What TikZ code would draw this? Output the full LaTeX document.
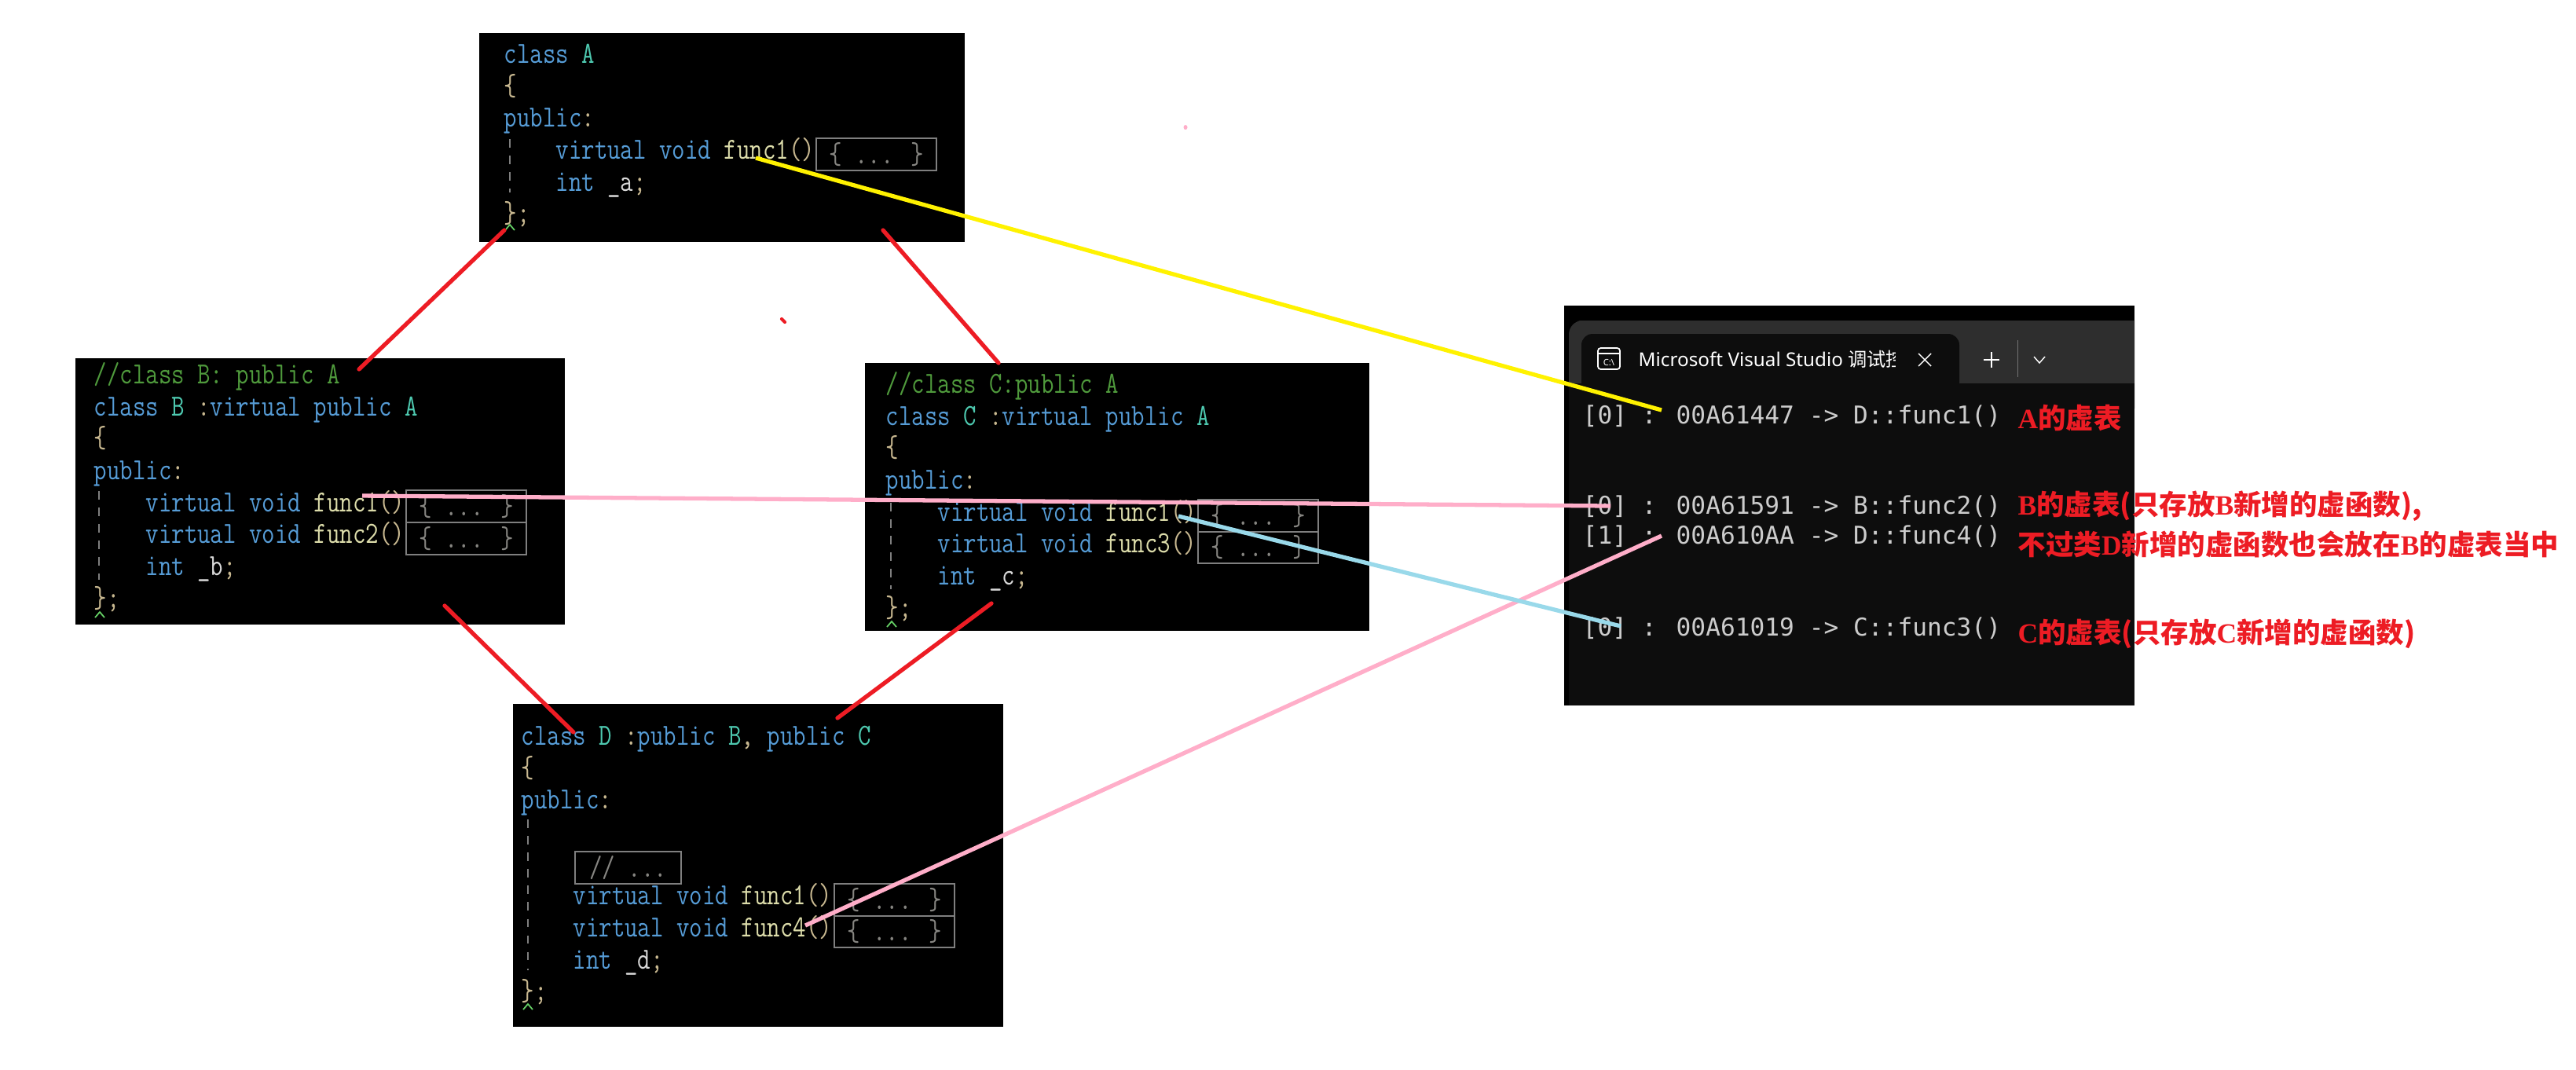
\documentclass[tikz,border=0pt]{standalone}
\usepackage{fontspec}
\usepackage{tikz}
\setmainfont{Noto Sans}
\newfontfamily\codefont[FakeStretch=0.82]{Latin Modern Mono}
\newfontfamily\consfont{DejaVu Sans Mono}
\newfontfamily\titlefont{Noto Sans}
\newfontfamily\cjk{Noto Sans CJK SC}
\newfontfamily\notelat{Liberation Serif}
\definecolor{kwblue}{HTML}{569CD6}
\definecolor{tyteal}{HTML}{4EC9B0}
\definecolor{cmgreen}{HTML}{4F9A3C}
\definecolor{fnyellow}{HTML}{DCDCAA}
\definecolor{punct}{HTML}{C8B890}
\definecolor{foldgrey}{HTML}{7F7F7F}
\definecolor{redmark}{HTML}{ED1C24}
\definecolor{yellowmark}{HTML}{FFF200}
\definecolor{pinkmark}{HTML}{FFAEC9}
\definecolor{bluemark}{HTML}{99D9EA}
\newcommand{\kw}[1]{\textcolor{kwblue}{#1}}
\newcommand{\ty}[1]{\textcolor{tyteal}{#1}}
\newcommand{\fn}[1]{\textcolor{fnyellow}{#1}}
\newcommand{\pc}[1]{\textcolor{punct}{#1}}
\newcommand{\vd}[1]{\textcolor{white!85!black}{#1}}
\newcommand{\lat}[1]{{\notelat #1}}
\tikzset{
  panel/.style={fill=black, inner sep=0pt, anchor=north west},
  code/.style={anchor=north west, inner sep=0pt, align=left, text=kwblue,
    font=\codefont\fontsize{11.1pt}{11.56pt}\selectfont},
  fold/.style={draw=foldgrey, line width=0.6pt, inner sep=0pt, anchor=north west, minimum width=1.53cm, minimum height=0.405cm,
    text=foldgrey!90!punct, font=\codefont\fontsize{11.1pt}{11.56pt}\selectfont},
  guide/.style={foldgrey, dashed, line width=0.5pt},
  caretmark/.style={green!70!black!60!white, line width=0.5pt},
  link/.style={line width=1.5pt},
  cons/.style={anchor=base west, inner sep=0pt, text=white!80!black, font=\consfont\fontsize{8.88pt}{11pt}\selectfont},
  note/.style={anchor=base west, inner sep=0pt, text=redmark, font=\cjk\bfseries\fontsize{10.1pt}{12pt}\selectfont},
}
\begin{document}
\begin{tikzpicture}
  \useasboundingbox (0,0) rectangle (32.79,-13.61);
  % class boxes
  \node[panel, minimum width=6.18cm, minimum height=2.66cm] (boxA) at (6.09,-0.41) {};
  \node[panel, minimum width=6.23cm, minimum height=3.39cm] (boxB) at (0.95,-4.55) {};
  \node[panel, minimum width=6.42cm, minimum height=3.41cm] (boxC) at (11.00,-4.61) {};
  \node[panel, minimum width=6.24cm, minimum height=4.11cm] (boxD) at (6.52,-8.95) {};
  \node[code] (codeA) at (6.41,-0.515) {\strut\kw{class} \ty{A}\\ \pc{\{}\\ public\pc{:}\\
    \ \ \ \ virtual void \fn{func1}\pc{()}\\ \ \ \ \ int \vd{\_a}\pc{;}\\ \pc{\}}\pc{;}};
  \node[code] (codeB) at (1.19,-4.595) {\strut\textcolor{cmgreen}{//class B: public A}\\ class \ty{B} \pc{:}virtual public \ty{A}\\ \pc{\{}\\ public\pc{:}\\
    \ \ \ \ virtual void \fn{func1}\pc{()}\\ \ \ \ \ virtual void \fn{func2}\pc{()}\\ \ \ \ \ int \vd{\_b}\pc{;}\\ \pc{\}}\pc{;}};
  \node[code] (codeC) at (11.27,-4.715) {\strut\textcolor{cmgreen}{//class C:public A}\\ class \ty{C} \pc{:}virtual public \ty{A}\\ \pc{\{}\\ public\pc{:}\\
    \ \ \ \ virtual void \fn{func1}\pc{()}\\ \ \ \ \ virtual void \fn{func3}\pc{()}\\ \ \ \ \ int \vd{\_c}\pc{;}\\ \pc{\}}\pc{;}};
  \node[code] (codeD) at (6.63,-9.195) {\strut class \ty{D} \pc{:}public \ty{B}\pc{,} public \ty{C}\\ \pc{\{}\\ public\pc{:}\\ \strut\\ \strut\\
    \ \ \ \ virtual void \fn{func1}\pc{()}\\ \ \ \ \ virtual void \fn{func4}\pc{()}\\ \ \ \ \ int \vd{\_d}\pc{;}\\ \pc{\}}\pc{;}};
  % collapsed bodies
  \node[fold] (foldA) at (10.38,-1.75) {\{ ... \}};
  \node[fold] (foldBa) at (5.16,-6.23) {\{ ... \}};
  \node[fold] (foldBb) at (5.16,-6.64) {\{ ... \}};
  \node[fold] (foldCa) at (15.24,-6.35) {\{ ... \}};
  \node[fold] (foldCb) at (15.24,-6.755) {\{ ... \}};
  \node[fold, minimum width=1.35cm] (foldDc) at (7.31,-10.83) {// ...};
  \node[fold] (foldDa) at (10.61,-11.24) {\{ ... \}};
  \node[fold] (foldDb) at (10.61,-11.645) {\{ ... \}};
  % indent guides and carets
  \draw[guide] (6.49,-1.77) -- (6.49,-2.45);
  \draw[guide] (1.26,-6.25) -- (1.26,-7.38);
  \draw[guide] (11.34,-6.40) -- (11.34,-7.50);
  \draw[guide] (6.72,-10.43) -- (6.72,-12.35);
  \foreach \cx/\cy in {6.49/2.93, 1.27/7.86, 11.35/7.98, 6.72/12.85}
    \draw[caretmark] (\cx-0.06,-\cy) -- (\cx,-\cy+0.07) -- (\cx+0.06,-\cy);
  % console window
  \fill[black] (19.91,-3.89) rectangle (27.17,-8.98);
  \fill[black!82] (27.17,-4.08) -- (20.07,-4.08) [rounded corners=5pt] -- (19.97,-4.08) -- (19.97,-5.2) [sharp corners] -- (27.17,-5.2) -- cycle;
  \fill[black!95] (19.97,-4.88) rectangle (27.17,-8.98);
  \fill[black!95, rounded corners=4pt] (20.13,-5.1) -- (20.13,-4.25) -- (24.94,-4.25) -- (24.94,-5.1) -- cycle;
  \fill[black!95] (20.13,-4.88) rectangle (24.94,-5.1);
  \draw[white, line width=0.5pt, rounded corners=1pt] (20.34,-4.43) rectangle (20.62,-4.70);
  \draw[white, line width=0.5pt] (20.34,-4.50) -- (20.62,-4.50);
  \node[inner sep=0pt, text=white, font=\titlefont\fontsize{3.2pt}{4pt}\selectfont] (icontxt) at (20.48,-4.61) {C:\textbackslash};
  \begin{scope}
    \clip (20.80,-4.30) rectangle (24.12,-4.90);
    \node[anchor=base west, inner sep=0pt, text=white, font=\titlefont\fontsize{6.9pt}{8pt}\selectfont] (title) at (20.85,-4.66) {Microsoft Visual Studio {\cjk 调试控制台}};
  \end{scope}
  \draw[white, line width=0.4pt] (24.42,-4.50) -- (24.58,-4.66) (24.58,-4.50) -- (24.42,-4.66);
  \draw[white, line width=0.4pt] (25.25,-4.58) -- (25.45,-4.58) (25.35,-4.48) -- (25.35,-4.68);
  \draw[white!45!black, line width=0.3pt] (25.68,-4.33) -- (25.68,-4.80);
  \draw[white, line width=0.4pt] (25.89,-4.54) -- (25.96,-4.62) -- (26.03,-4.54);
  % console lines
  \node[cons] (rowA) at (20.14,-5.39) {[0] : 00A61447 -> D::func1()};
  \node[cons] (rowB) at (20.14,-6.54) {[0] : 00A61591 -> B::func2()};
  \node[cons] (rowD) at (20.14,-6.92) {[1] : 00A610AA -> D::func4()};
  \node[cons] (rowC) at (20.14,-8.09) {[0] : 00A61019 -> C::func3()};
  % red remarks
  \node[note] (noteA) at (25.68,-5.45) {\lat{A}的虚表};
  \node[note] (noteBa) at (25.68,-6.55) {\lat{B}的虚表(只存放\lat{B}新增的虚函数),};
  \node[note] (noteBb) at (25.68,-7.06) {不过类\lat{D}新增的虚函数也会放在\lat{B}的虚表当中};
  \node[note] (noteC) at (25.68,-8.18) {\lat{C}的虚表(只存放\lat{C}新增的虚函数)};
  % stray pen marks
  \fill[pinkmark] (15.09,-1.62) ellipse (0.025 and 0.03);
  \draw[redmark, line width=1.2pt, line cap=round] (9.95,-4.06) -- (9.99,-4.10);
  % connector ends
  \coordinate (fromAl) at (6.42,-2.93);
  \coordinate (toBtop) at (4.57,-4.70);
  \coordinate (fromAr) at (11.24,-2.93);
  \coordinate (toCtop) at (12.71,-4.62);
  \coordinate (fromBb) at (5.66,-7.71);
  \coordinate (toDl) at (7.30,-9.32);
  \coordinate (fromCb) at (12.62,-7.68);
  \coordinate (toDr) at (10.66,-9.14);
  \coordinate (funcA) at (9.62,-2.01);
  \coordinate (funcB) at (4.61,-6.31);
  \coordinate (funcC) at (15.00,-6.57);
  \coordinate (funcD) at (10.25,-11.78);
  \coordinate (slotA) at (21.15,-5.22);
  \coordinate (slotB) at (20.50,-6.44);
  \coordinate (slotD) at (21.15,-6.82);
  \coordinate (slotC) at (20.63,-7.97);
  \draw[link, redmark, line cap=round] (fromAl) -- (toBtop);
  \draw[link, redmark, line cap=round] (fromAr) -- (toCtop);
  \draw[link, redmark, line cap=round] (fromBb) -- (toDl);
  \draw[link, redmark, line cap=round] (fromCb) -- (toDr);
  \draw[link, yellowmark] (funcA) -- (slotA);
  \draw[link, pinkmark] (funcB) -- (slotB);
  \draw[link, pinkmark] (funcD) -- (slotD);
  \draw[link, bluemark] (funcC) -- (slotC);
\end{tikzpicture}
\end{document}
